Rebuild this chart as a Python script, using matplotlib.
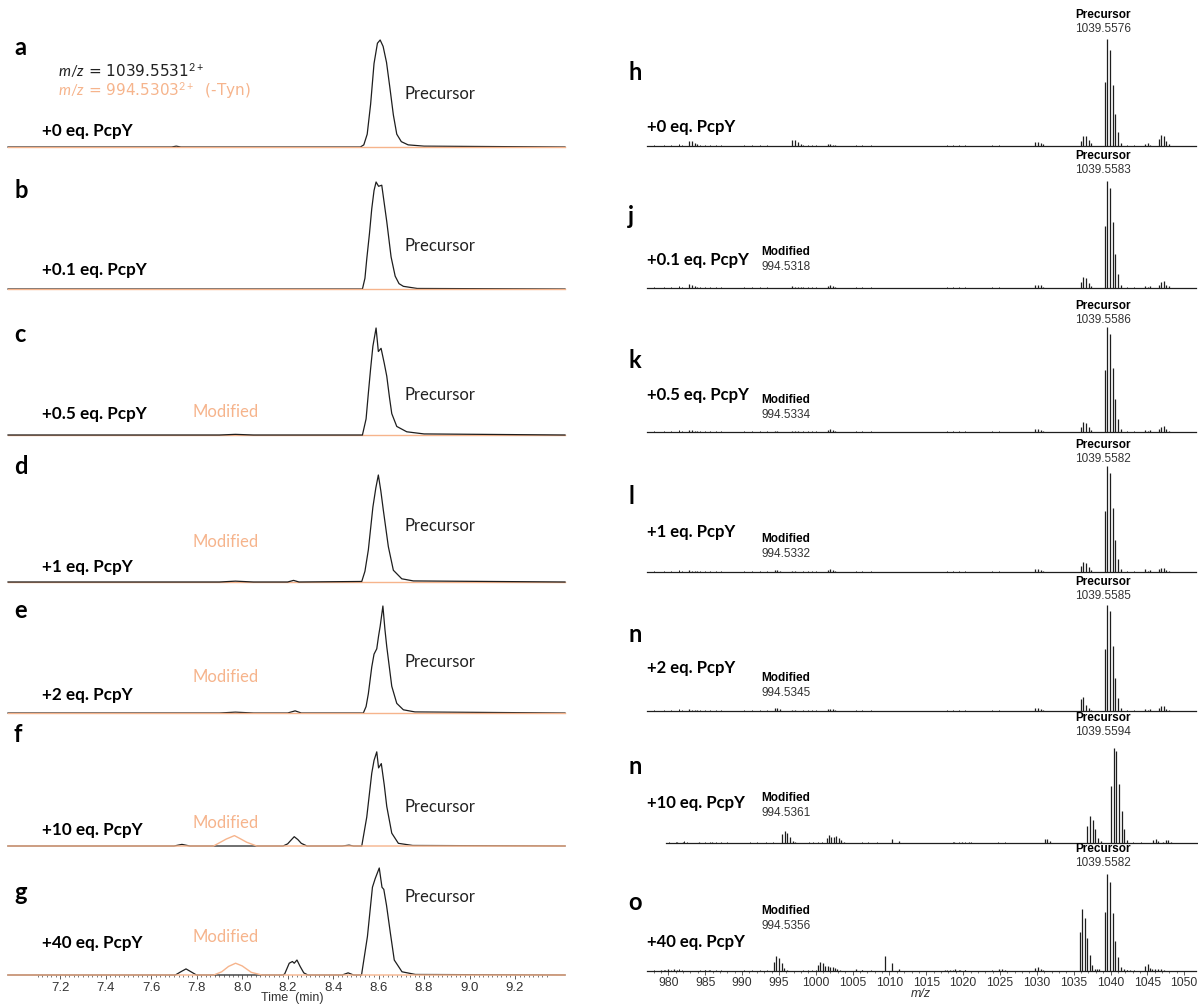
import matplotlib.pyplot as plt
import numpy as np

plt.rcParams['mathtext.fontset'] = 'custom'
plt.rcParams['mathtext.rm'] = 'Lato'
plt.rcParams['mathtext.it'] = 'Lato:italic'

W, H = 1198, 1006
ORANGE = '#F6B48C'
INK = '#1e1e1e'
CAL = 'Lato'
ARIAL = 'Liberation Sans'

LEFT_LETTERS = ['a', 'b', 'c', 'd', 'e', 'f', 'g']
RIGHT_LETTERS = ['h', 'j', 'k', 'l', 'n', 'n', 'o']
CONDITIONS = ['+0 eq. PcpY', '+0.1 eq. PcpY', '+0.5 eq. PcpY', '+1 eq. PcpY',
              '+2 eq. PcpY', '+10 eq. PcpY', '+40 eq. PcpY']
PREC_MZ = ['1039.5576', '1039.5583', '1039.5586', '1039.5582',
           '1039.5585', '1039.5594', '1039.5582']
MOD_MZ = [None, '994.5318', '994.5334', '994.5332', '994.5345', '994.5361', '994.5356']

# ---- extracted ion chromatograms (time in min, intensity in % of full scale) ----
T_A = [6.97, 7.69, 7.71, 7.73, 8.52, 8.535, 8.55, 8.565, 8.58, 8.595, 8.607, 8.62,
       8.635, 8.65, 8.665, 8.68, 8.70, 8.73, 8.80, 9.42]
Y_A = [0, 0, 0.8, 0, 0, 2, 12, 40, 78, 97, 100, 94, 79, 55, 30, 12, 5, 2, 0.8, 0]
T_B = [6.97, 8.529, 8.54, 8.548, 8.56, 8.57, 8.58, 8.589, 8.60, 8.614, 8.625, 8.636,
       8.655, 8.673, 8.69, 8.709, 8.77, 9.42]
Y_B = [0, 0, 10, 28, 52, 75, 92, 100, 96, 97, 80, 63, 30, 12, 5, 2.5, 0.5, 0]
T_C = [6.97, 7.90, 7.97, 8.05, 8.529, 8.545, 8.555, 8.565, 8.575, 8.589, 8.599, 8.611,
       8.625, 8.636, 8.648, 8.658, 8.68, 8.724, 8.80, 9.42]
Y_C = [0, 0, 0.6, 0, 0, 15, 39, 62, 83, 100, 78, 81, 67, 55, 35, 20, 8, 3, 1, 0]
T_D = [6.97, 7.90, 7.97, 8.05, 8.20, 8.226, 8.25, 8.526, 8.54, 8.555, 8.565, 8.575,
       8.588, 8.599, 8.61, 8.621, 8.643, 8.665, 8.702, 8.753, 9.42]
Y_D = [0, 0, 0.8, 0, 0, 1.5, 0, 0.5, 10, 30, 50, 70, 88, 100, 85, 67, 33, 11, 3, 1, 0]
T_E = [6.97, 7.90, 7.97, 8.05, 8.20, 8.233, 8.26, 8.533, 8.545, 8.555, 8.57, 8.58,
       8.592, 8.60, 8.607, 8.619, 8.628, 8.636, 8.658, 8.68, 8.709, 8.76, 9.42]
Y_E = [0, 0, 0.8, 0, 0, 2, 0, 0, 6, 18, 43, 55, 60, 72, 81, 100, 78, 62, 25, 9, 3, 1, 0]
T_F = [6.97, 7.70, 7.735, 7.77, 8.18, 8.20, 8.215, 8.229, 8.245, 8.26, 8.285, 8.44,
       8.47, 8.49, 8.526, 8.548, 8.57, 8.58, 8.592, 8.60, 8.612, 8.625, 8.636, 8.658,
       8.687, 8.75, 9.42]
Y_F = [0, 0, 1.5, 0, 0, 2, 5.5, 8.7, 6, 2.5, 0, 0, 0.8, 0, 0, 27, 68, 80, 88, 73,
       77, 57, 37, 12, 2.5, 0.5, 0]
T_G = [6.97, 7.706, 7.73, 7.753, 7.775, 7.799, 8.179, 8.187, 8.207, 8.221, 8.229,
       8.241, 8.255, 8.271, 8.289, 8.44, 8.466, 8.49, 8.525, 8.551, 8.573, 8.585,
       8.603, 8.615, 8.623, 8.635, 8.652, 8.669, 8.703, 8.762, 9.42]
Y_G = [0, 0, 3, 5.7, 3, 0, 0, 1, 11, 12.6, 11, 14, 8, 2, 0, 0, 2, 0, 0, 36, 82, 90,
       100, 82, 80, 65, 39, 14, 3, 0.5, 0]
# modified species (m/z 994.53) traces
TM_FLAT = [6.97, 9.42]
YM_FLAT = [0, 0]
TM_F = [6.97, 7.874, 7.90, 7.93, 7.966, 7.99, 8.02, 8.064, 9.42]
YM_F = [0, 0, 3, 6.5, 9.7, 7, 3.5, 0, 0]
TM_G = [6.97, 7.875, 7.91, 7.94, 7.971, 8.00, 8.04, 8.086, 9.42]
YM_G = [0, 0, 3, 8, 11, 8.5, 2.5, 0, 0]

CHROM = [(T_A, Y_A, TM_FLAT, YM_FLAT), (T_B, Y_B, TM_FLAT, YM_FLAT),
         (T_C, Y_C, TM_FLAT, YM_FLAT), (T_D, Y_D, TM_FLAT, YM_FLAT),
         (T_E, Y_E, TM_FLAT, YM_FLAT), (T_F, Y_F, TM_F, YM_F),
         (T_G, Y_G, TM_G, YM_G)]
BLACK_ON_TOP = [False, False, True, True, False, False, False]

# ---- mass spectra (m/z, relative intensity %) ----
NOISE_MZ = [978.0, 979.4, 980.4, 981.4, 981.8, 984.3, 985.0, 985.7, 986.4, 987.2,
            990.3, 991.3, 992.5, 993.4, 998.3, 998.9, 999.5, 1000.1, 1005.5, 1006.3,
            1007.5, 1012.0, 1017.8, 1018.6, 1019.5, 1020.3, 1023.9, 1024.8, 1027.5,
            1033.0, 1042.2, 1043.2, 1049.0, 1049.9]
NOISE_INT = [0.6, 0.5, 0.5, 1.5, 1.2, 0.8, 0.6, 0.7, 0.5, 0.6, 1.2, 0.9, 0.6, 0.5,
             0.6, 0.8, 0.7, 0.5, 0.7, 0.5, 0.8, 0.4, 0.9, 1.0, 1.2, 0.8, 0.7, 0.8,
             0.4, 0.4, 0.8, 0.6, 0.4, 0.4]

MZ_LOW = [982.83, 983.17, 983.55, 983.89, 994.42, 994.76, 995.1, 996.83, 997.22,
          997.61, 997.99, 1001.65, 1001.99, 1002.33, 1002.67, 1029.8, 1030.16,
          1030.52, 1030.88, 1035.94, 1036.3, 1036.66, 1037.02, 1037.38, 1039.22,
          1039.56, 1039.93, 1040.29, 1040.65, 1041.01, 1041.37, 1044.63, 1045.02,
          1045.35, 1046.56, 1046.9, 1047.24, 1047.58, 1047.91]
INT_H = [5, 5, 3, 1.5, 0, 0, 0, 6, 6, 3.5, 1.5, 1.5, 1.8, 1.2, 0.5, 4, 4, 3, 1.5,
         5, 9.5, 9, 6, 2.5, 60, 100, 90, 57, 30, 13, 2.5, 1.5, 2.5, 1, 7, 10, 9.5, 5, 2]
INT_J = [3.5, 3, 1.5, 1, 0.3, 0.3, 0, 1.5, 1, 1, 0.5, 2, 2.5, 2, 1, 3, 3, 2.5, 1,
         6, 10, 9, 5, 2, 57.6, 99.7, 93, 62, 32, 13, 2.5, 2, 1, 1.5, 3, 6, 6.5, 3, 1.5]
INT_K = [2, 1.5, 1, 0.5, 0.5, 0.5, 0, 1, 1, 0.5, 0.3, 2, 3, 2, 1, 3, 3, 2, 1,
         5, 9, 8, 5, 2, 58, 98, 92, 60, 31, 12, 3, 2, 1, 1.5, 3, 5, 5.5, 3, 1]
INT_L = [1.5, 1, 0.5, 0.5, 1.5, 1.5, 1, 0.5, 0.5, 0.3, 0, 2, 2.5, 2, 1, 3, 3, 2, 1,
         6, 9.7, 8.4, 5, 2, 57, 99, 92.5, 60, 30, 12.5, 3, 2.5, 1, 1.5, 3, 4, 4, 2, 1]
INT_N = [1.5, 1, 0.5, 0.5, 3, 3, 1.5, 0.5, 0.5, 0.3, 0, 1.5, 2, 2, 1, 3, 3, 2, 1,
         11, 13, 6, 3, 1, 58, 99, 93, 61, 31, 12.5, 3, 2, 1, 1.5, 3, 4.5, 4.5, 2, 1]

MZ_N10 = [980.5, 981.3, 983.5, 985.2, 994.71, 995.06, 995.42, 995.78, 996.14, 996.5,
          1000.74, 1001.03, 1001.37, 1001.7, 1002.04, 1002.38, 1002.72, 1003.05,
          1009.53, 1010.5, 1018.0, 1019.0, 1020.0, 1030.2, 1030.55, 1030.9, 1035.99,
          1036.35, 1036.71, 1037.07, 1037.43, 1037.79, 1039.22, 1039.56, 1039.93,
          1040.29, 1040.65, 1041.01, 1041.37, 1044.92, 1045.26, 1045.6, 1046.27,
          1046.61, 1046.95, 1047.29]
INT_N10 = [1, 1, 1, 1, 8.4, 11.5, 9, 5.3, 2, 1, 5, 7.5, 6, 6, 7, 5, 2.5, 1, 4, 1.5,
           1, 1, 1, 4, 4, 2, 16, 25, 21.5, 13, 5, 2, 53.6, 89, 86, 55, 30, 13, 3,
           3, 4, 2, 1, 2.5, 2.5, 1]
MZ_O = [979.0, 979.5, 980.0, 980.7, 981.2, 985.0, 985.5, 994.3, 994.66, 995.02,
        995.38, 995.74, 996.1, 1000.3, 1000.6, 1000.95, 1001.3, 1001.6, 1001.95,
        1002.3, 1002.6, 1002.95, 1003.3, 1005.4, 1006.3, 1009.38, 1010.35, 1011.3,
        1017.5, 1018.2, 1018.9, 1019.6, 1020.3, 1024.9, 1025.3, 1025.7, 1029.8,
        1030.16, 1030.52, 1030.88, 1035.84, 1036.18, 1036.52, 1036.86, 1037.2,
        1037.53, 1037.87, 1038.2, 1038.5, 1039.22, 1039.56, 1039.93, 1040.29,
        1040.65, 1041.01, 1041.37, 1041.8, 1042.2, 1042.6, 1044.63, 1045.02,
        1045.35, 1045.69, 1046.1, 1046.5, 1046.9, 1047.24]
INT_O = [1.2, 1, 1.5, 1.5, 1, 1, 1, 8.4, 13.7, 12, 7.5, 3, 1, 6, 8.4, 7.5, 4.7,
         4.5, 4, 3.5, 2.5, 1.5, 1, 2, 1, 13.7, 7.5, 2, 1, 1, 1.5, 1.2, 0.8, 2, 2,
         1.2, 3, 3.5, 2, 1, 36, 58, 50, 31, 15, 6, 2, 1.5, 1.5, 55, 91, 83, 54, 28,
         13, 4, 1.5, 1, 1, 5, 7, 3, 2, 1.5, 2, 1.5, 1]

SPECTRA = [(MZ_LOW, INT_H), (MZ_LOW, INT_J), (MZ_LOW, INT_K), (MZ_LOW, INT_L),
           (MZ_LOW, INT_N), (MZ_N10, INT_N10), (MZ_O, INT_O)]

TIME_TICKS = [7.2, 7.4, 7.6, 7.8, 8.0, 8.2, 8.4, 8.6, 8.8, 9.0, 9.2]
MZ_TICKS = list(range(980, 1051, 5))

# layout (pixel rows of the baselines)
LEFT_BASE = [147, 289, 435, 582, 713, 846, 975]
RIGHT_BASE = [146, 288, 432, 572, 711, 843, 971]
LEFT_LETTER_Y = [48, 190, 334, 467, 610, 735, 893]
LEFT_COND_Y = [131, 270, 414, 567, 695, 830, 943]
LEFT_PREC_Y = [94, 246, 395, 526, 662, 807, 897]
LEFT_MOD_Y = [None, None, 412, 542, 677, 823, 937]
RIGHT_LETTER_Y = [73, 217, 360, 496, 634, 767, 903]
RIGHT_COND_Y = [127, 260, 395, 532, 668, 803, 942]
RIGHT_PREC_Y = [15, 156, 306, 445, 582, 718, 849]
RIGHT_MOD_Y = [None, 252, 400, 539, 678, 798, 911]

fig = plt.figure(figsize=(W / 100, H / 100), dpi=100)


def put(x, y, s, **kw):
    kw.setdefault('va', 'center')
    fig.text(x / W, 1 - y / H, s, **kw)


# ---- left column: chromatograms ----
for i in range(7):
    ax = fig.add_axes([8 / W, 1 - LEFT_BASE[i] / H, 557 / W, 107 / H])
    t, y, tm, ym = CHROM[i]
    zb, zo = (3, 2) if BLACK_ON_TOP[i] else (2, 3)
    ax.plot(t, y, color=INK, lw=0.9, zorder=zb, clip_on=False)
    ax.plot(tm, ym, color=ORANGE, lw=1.0, zorder=zo, clip_on=False)
    ax.set_xlim(6.97, 9.42)
    ax.set_ylim(0, 100)
    for s in ax.spines.values():
        s.set_visible(False)
    ax.set_yticks([])
    if i < 6:
        ax.set_xticks([])
    else:
        ax.set_xticks(TIME_TICKS)
        ax.set_xticklabels(['%.1f' % v for v in TIME_TICKS],
                           fontname=ARIAL, fontsize=9.5, color='#333333')
        ax.set_xticks(np.arange(7.1, 9.35, 0.02), minor=True)
        ax.tick_params(axis='x', which='major', length=3, width=0.6,
                       color='#444444', pad=2)
        ax.tick_params(axis='x', which='minor', length=1.5, width=0.5,
                       color='#444444')
    put(14, LEFT_LETTER_Y[i], LEFT_LETTERS[i], fontname=CAL, fontweight='bold',
        fontsize=17)
    put(42, LEFT_COND_Y[i], CONDITIONS[i], fontname=CAL, fontweight='bold',
        fontsize=12.3)
    put(405, LEFT_PREC_Y[i], 'Precursor', fontname=CAL, fontsize=12, color='#222222')
    if LEFT_MOD_Y[i] is not None:
        put(193, LEFT_MOD_Y[i], 'Modified', fontname=CAL, fontsize=12, color=ORANGE)

put(292, 998, 'Time  (min)', fontname=ARIAL, fontsize=9, color='#333333', ha='center')
put(58, 71, r'$\it{m/z}$ = 1039.5531$^{2+}$', fontsize=11, color='#222222')
put(58, 91, r'$\it{m/z}$ = 994.5303$^{2+}$  (-Tyn)', fontsize=11, color=ORANGE)

# ---- right column: mass spectra ----
for i in range(7):
    if i == 5:
        ax = fig.add_axes([666 / W, 1 - RIGHT_BASE[i] / H, 531 / W, 107 / H])
        ax.set_xlim(978.99, 1050.82)
    else:
        ax = fig.add_axes([647 / W, 1 - RIGHT_BASE[i] / H, 549 / W, 107 / H])
        ax.set_xlim(977.1, 1051.6)
    ax.set_ylim(0, 100)
    mz, inten = SPECTRA[i]
    ax.vlines(NOISE_MZ, 0, NOISE_INT, color=INK, lw=0.7)
    ax.vlines(mz, 0, inten, color=INK, lw=0.9)
    ax.axhline(0, color=INK, lw=0.9, clip_on=False)
    for s in ax.spines.values():
        s.set_visible(False)
    ax.set_yticks([])
    if i < 6:
        ax.set_xticks([])
    else:
        ax.set_xticks(MZ_TICKS)
        ax.set_xticklabels([str(v) for v in MZ_TICKS],
                           fontname=ARIAL, fontsize=8.8, color='#333333')
        ax.set_xticks(np.arange(978, 1051, 1), minor=True)
        ax.tick_params(axis='x', which='major', length=3, width=0.6,
                       color='#444444', pad=1.5)
        ax.tick_params(axis='x', which='minor', length=1.5, width=0.5,
                       color='#444444')
    put(628, RIGHT_LETTER_Y[i], RIGHT_LETTERS[i], fontname=CAL, fontweight='bold',
        fontsize=17)
    put(647, RIGHT_COND_Y[i], CONDITIONS[i], fontname=CAL, fontweight='bold',
        fontsize=12)
    put(1103, RIGHT_PREC_Y[i], 'Precursor', fontname=ARIAL, fontweight='bold',
        fontsize=8.5, ha='center')
    put(1103, RIGHT_PREC_Y[i] + 14, PREC_MZ[i], fontname=ARIAL, fontsize=8.5,
        ha='center', color='#333333')
    if RIGHT_MOD_Y[i] is not None:
        put(786, RIGHT_MOD_Y[i], 'Modified', fontname=ARIAL, fontweight='bold',
            fontsize=8.5, ha='center')
        put(786, RIGHT_MOD_Y[i] + 15, MOD_MZ[i], fontname=ARIAL, fontsize=8.5,
            ha='center', color='#333333')

put(921, 994, 'm/z', fontname=ARIAL, fontsize=9, style='italic', color='#333333',
    ha='center')

fig.savefig('out.png', dpi=100)
